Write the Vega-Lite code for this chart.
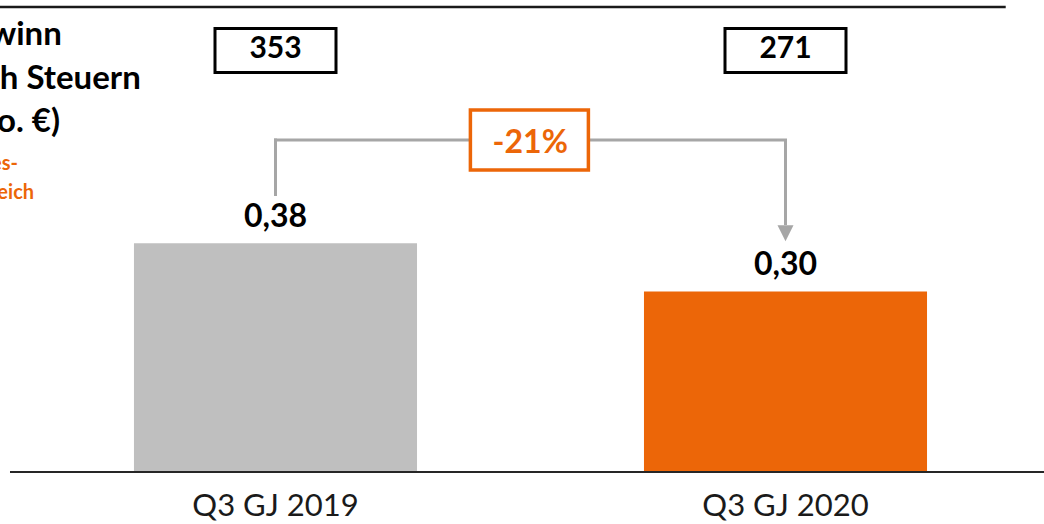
{
  "$schema": "https://vega.github.io/schema/vega-lite/v6.json",
  "width": 1044,
  "height": 524,
  "autosize": {"type": "none"},
  "padding": 0,
  "background": "white",
  "config": {
    "view": {"stroke": null},
    "axis": {"disable": true},
    "text": {"font": "Lato"},
    "locale": {"number": {"decimal": ",", "thousands": ".", "grouping": [3], "currency": ["", " €"]}}
  },
  "data": {"values": [
    {"quartal": "Q3 GJ 2019", "eps": 0.38, "gewinn": 353},
    {"quartal": "Q3 GJ 2020", "eps": 0.30, "gewinn": 271}
  ]},
  "layer": [
    {
      "mark": {"type": "bar"},
      "encoding": {
        "x": {"field": "quartal", "type": "nominal", "axis": null,
              "scale": {"type": "band", "domain": ["Q3 GJ 2019", "Q3 GJ 2020"], "range": [20.5, 1040.5], "paddingInner": 0.445, "paddingOuter": 0.2225}},
        "y": {"field": "eps", "type": "quantitative", "axis": null,
              "scale": {"domain": [-0.0864, 0.7841], "nice": false, "zero": false}},
        "color": {"field": "quartal", "type": "nominal", "legend": null,
                  "scale": {"domain": ["Q3 GJ 2019", "Q3 GJ 2020"], "range": ["#BFBFBF", "#EC6608"]}}
      }
    },
    {
      "data": {"values": [{}]},
      "mark": {"type": "rule", "stroke": "#1A1A1A", "strokeWidth": 2.5},
      "encoding": {
        "x": {"datum": "Q3 GJ 2019", "type": "nominal", "bandPosition": -0.6},
        "x2": {"datum": "Q3 GJ 2020", "bandPosition": 1.278},
        "y": {"datum": 0.7724, "type": "quantitative"}
      }
    },
    {
      "data": {"values": [{}]},
      "mark": {"type": "rule", "stroke": "#262626", "strokeWidth": 2},
      "encoding": {
        "x": {"datum": "Q3 GJ 2019", "type": "nominal", "bandPosition": -0.438},
        "x2": {"datum": "Q3 GJ 2020", "bandPosition": 1.5},
        "y": {"datum": 0, "type": "quantitative"}
      }
    },
    {
      "mark": {"type": "text", "fontSize": 32, "fontWeight": "bold", "color": "#000000", "baseline": "alphabetic", "dy": -16},
      "encoding": {
        "x": {"field": "quartal", "type": "nominal"},
        "y": {"field": "eps", "type": "quantitative"},
        "text": {"field": "eps", "type": "quantitative", "format": ".2f"}
      }
    },
    {
      "data": {"values": [{}]},
      "mark": {"type": "rule", "stroke": "#A6A6A6", "strokeWidth": 3, "strokeCap": "square"},
      "encoding": {
        "x": {"datum": "Q3 GJ 2019", "type": "nominal"},
        "y": {"datum": 0.4610, "type": "quantitative"},
        "y2": {"datum": 0.5515}
      }
    },
    {
      "data": {"values": [{}]},
      "mark": {"type": "rule", "stroke": "#A6A6A6", "strokeWidth": 3, "strokeCap": "square"},
      "encoding": {
        "x": {"datum": "Q3 GJ 2019", "type": "nominal"},
        "x2": {"datum": "Q3 GJ 2020"},
        "y": {"datum": 0.5515, "type": "quantitative"}
      }
    },
    {
      "data": {"values": [{}]},
      "mark": {"type": "rule", "stroke": "#A6A6A6", "strokeWidth": 3},
      "encoding": {
        "x": {"datum": "Q3 GJ 2020", "type": "nominal"},
        "y": {"datum": 0.4103, "type": "quantitative"},
        "y2": {"datum": 0.5515}
      }
    },
    {
      "data": {"values": [{}]},
      "mark": {"type": "point", "shape": "M-1,-1L1,-1L0,1Z", "size": 256, "filled": true, "fill": "#A6A6A6", "strokeWidth": 0, "opacity": 1},
      "encoding": {
        "x": {"datum": "Q3 GJ 2020", "type": "nominal"},
        "y": {"datum": 0.3965, "type": "quantitative"}
      }
    },
    {
      "mark": {"type": "point", "shape": "M-1,-0.3636H1V0.3636H-1Z", "size": 14641, "filled": true, "fill": "#FFFFFF", "stroke": "#000000", "strokeWidth": 3, "opacity": 1},
      "encoding": {
        "x": {"field": "quartal", "type": "nominal"},
        "y": {"datum": 0.7002, "type": "quantitative"}
      }
    },
    {
      "mark": {"type": "text", "fontSize": 30, "fontWeight": "bold", "color": "#000000", "baseline": "alphabetic"},
      "encoding": {
        "x": {"field": "quartal", "type": "nominal"},
        "y": {"datum": 0.6882, "type": "quantitative"},
        "text": {"field": "gewinn", "type": "quantitative", "format": "d"}
      }
    },
    {
      "data": {"values": [{}]},
      "mark": {"type": "point", "shape": "M-1,-0.508H1V0.508H-1Z", "size": 13924, "filled": true, "fill": "#FFFFFF", "stroke": "#EC6608", "strokeWidth": 3.5, "opacity": 1},
      "encoding": {
        "x": {"datum": "Q3 GJ 2019", "type": "nominal", "bandPosition": 1.397},
        "y": {"datum": 0.5515, "type": "quantitative"}
      }
    },
    {
      "data": {"values": [{}]},
      "mark": {"type": "text", "fontSize": 32, "fontWeight": "bold", "color": "#EC6608", "baseline": "alphabetic", "text": "-21%"},
      "encoding": {
        "x": {"datum": "Q3 GJ 2019", "type": "nominal", "bandPosition": 1.4},
        "y": {"datum": 0.5304, "type": "quantitative"}
      }
    },
    {
      "data": {"values": [{}]},
      "mark": {"type": "text", "fontSize": 33, "fontWeight": "bold", "color": "#000000", "baseline": "alphabetic", "align": "left", "lineHeight": 43.5, "text": ["Gewinn", "nach Steuern", "(Mio. €)"]},
      "encoding": {
        "x": {"datum": "Q3 GJ 2019", "type": "nominal", "bandPosition": -0.655},
        "y": {"datum": 0.7093, "type": "quantitative"}
      }
    },
    {
      "data": {"values": [{}]},
      "mark": {"type": "text", "fontSize": 20, "fontWeight": "bold", "color": "#EC6608", "baseline": "alphabetic", "align": "right", "text": "Vorjahres-"},
      "encoding": {
        "x": {"datum": "Q3 GJ 2019", "type": "nominal", "bandPosition": -0.410},
        "y": {"datum": 0.5017, "type": "quantitative"}
      }
    },
    {
      "data": {"values": [{}]},
      "mark": {"type": "text", "fontSize": 20, "fontWeight": "bold", "color": "#EC6608", "baseline": "alphabetic", "align": "right", "text": "vergleich"},
      "encoding": {
        "x": {"datum": "Q3 GJ 2019", "type": "nominal", "bandPosition": -0.353},
        "y": {"datum": 0.4535, "type": "quantitative"}
      }
    },
    {
      "mark": {"type": "text", "fontSize": 31, "color": "#1A1A1A", "baseline": "alphabetic"},
      "encoding": {
        "x": {"field": "quartal", "type": "nominal"},
        "y": {"datum": -0.0731, "type": "quantitative"},
        "text": {"field": "quartal", "type": "nominal"}
      }
    }
  ]
}
